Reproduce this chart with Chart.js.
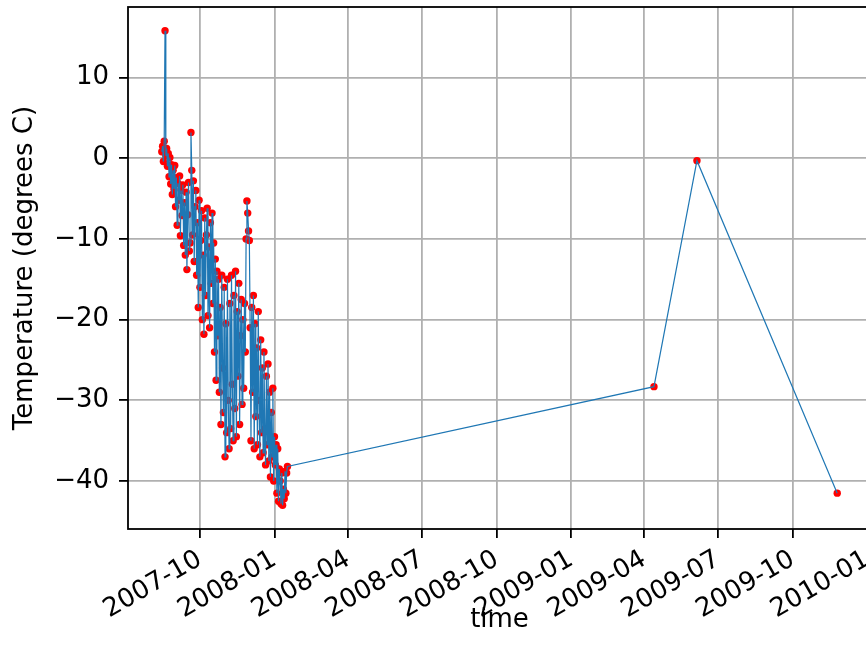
<!DOCTYPE html>
<html>
<head>
<meta charset="utf-8">
<script src="https://cdn.jsdelivr.net/npm/chart.js@4/dist/chart.umd.min.js"></script>
<style>
  html, body { margin: 0; padding: 0; background: #fff; overflow: hidden; }
  #wrap { width: 875px; height: 664px; }
</style>
</head>
<body>
<div id="wrap"><canvas id="myChart" width="875" height="664"></canvas></div>
<script>
// daily readings, Aug 2007 - Jan 2008, then three late readings
const dates = [
  '2007-08-15','2007-08-16','2007-08-17','2007-08-18','2007-08-19','2007-08-20','2007-08-21',
  '2007-08-22','2007-08-23','2007-08-24','2007-08-25','2007-08-26','2007-08-27','2007-08-28',
  '2007-08-29','2007-08-30','2007-08-31','2007-09-01','2007-09-02','2007-09-03','2007-09-04',
  '2007-09-05','2007-09-06','2007-09-07','2007-09-08','2007-09-09','2007-09-10','2007-09-11',
  '2007-09-12','2007-09-13','2007-09-14','2007-09-15','2007-09-16','2007-09-17','2007-09-18',
  '2007-09-19','2007-09-20','2007-09-21','2007-09-22','2007-09-23','2007-09-24','2007-09-25',
  '2007-09-26','2007-09-27','2007-09-28','2007-09-29','2007-09-30','2007-10-01','2007-10-02',
  '2007-10-03','2007-10-04','2007-10-05','2007-10-06','2007-10-07','2007-10-08','2007-10-09',
  '2007-10-10','2007-10-11','2007-10-12','2007-10-13','2007-10-14','2007-10-15','2007-10-16',
  '2007-10-17','2007-10-18','2007-10-19','2007-10-20','2007-10-21','2007-10-22','2007-10-23',
  '2007-10-24','2007-10-25','2007-10-26','2007-10-27','2007-10-28','2007-10-29','2007-10-30',
  '2007-10-31','2007-11-01','2007-11-02','2007-11-03','2007-11-04','2007-11-05','2007-11-06',
  '2007-11-07','2007-11-08','2007-11-09','2007-11-10','2007-11-11','2007-11-12','2007-11-13',
  '2007-11-14','2007-11-15','2007-11-16','2007-11-17','2007-11-18','2007-11-19','2007-11-20',
  '2007-11-21','2007-11-22','2007-11-23','2007-11-24','2007-11-25','2007-11-26','2007-11-27',
  '2007-11-28','2007-11-29','2007-11-30','2007-12-01','2007-12-02','2007-12-03','2007-12-04',
  '2007-12-05','2007-12-06','2007-12-07','2007-12-08','2007-12-09','2007-12-10','2007-12-11',
  '2007-12-12','2007-12-13','2007-12-14','2007-12-15','2007-12-16','2007-12-17','2007-12-18',
  '2007-12-19','2007-12-20','2007-12-21','2007-12-22','2007-12-23','2007-12-24','2007-12-25',
  '2007-12-26','2007-12-27','2007-12-28','2007-12-29','2007-12-30','2007-12-31','2008-01-01',
  '2008-01-02','2008-01-03','2008-01-04','2008-01-05','2008-01-06','2008-01-07','2008-01-08',
  '2008-01-09','2008-01-10','2008-01-11','2008-01-12','2008-01-13','2008-01-14','2008-01-15',
  '2008-01-16','2008-01-17',
  '2009-04-13','2009-06-05','2009-11-25'
];

const temps = [
  0.8, 1.5, -0.4, 2.1, 15.8, 0.3, 1.2,
  -1.0, 0.6, -2.3, 0.1, -3.2, -0.8, -4.5,
  -1.5, -3.8, -0.9, -6.0, -2.4, -8.3, -3.1,
  -5.2, -2.2, -9.6, -4.0, -7.1, -3.3, -10.8,
  -5.5, -12.0, -4.2, -13.8, -7.0, -3.0, -11.5,
  -10.5, 3.2, -1.5, -9.5, -2.8, -12.8, -6.0,
  -4.0, -14.5, -8.0, -18.5, -5.2, -16.0, -10.2,
  -6.5, -20.0, -12.0, -21.8, -7.4, -17.0, -9.5,
  -6.2, -19.5, -11.0, -21.0, -8.0, -15.5, -6.8,
  -18.0, -10.5, -24.0, -12.5, -27.5, -14.0, -22.0,
  -15.0, -29.0, -18.5, -33.0, -14.5, -26.0, -31.5,
  -16.0, -37.0, -20.5, -34.0, -15.0, -30.0, -36.0,
  -18.0, -33.5, -14.5, -28.0, -35.0, -17.0, -31.0,
  -14.0, -34.5, -19.0, -27.0, -15.5, -33.0, -22.0,
  -17.5, -30.5, -20.0, -28.5, -18.0, -24.0, -10.0,
  -5.3, -6.8, -9.0, -10.2, -21.0, -35.0, -18.5,
  -29.0, -17.0, -36.0, -20.5, -32.0, -23.5, -35.5,
  -19.0, -30.0, -37.0, -22.5, -34.0, -26.0, -36.5,
  -24.0, -33.5, -38.0, -27.0, -35.5, -25.5, -37.5,
  -29.0, -39.5, -31.5, -37.0, -28.5, -40.0, -34.5,
  -38.0, -35.5, -41.5, -36.0, -42.5, -38.5, -40.0,
  -42.8, -39.0, -43.0, -41.0, -42.2, -38.8, -41.5,
  -39.0, -38.2,
  -28.3, -0.3, -41.5
];

const xTickLabels = ['2007-10', '2008-01', '2008-04', '2008-07', '2008-10',
                     '2009-01', '2009-04', '2009-07', '2009-10', '2010-01'];
const yTicks = [-40, -30, -20, -10, 0, 10];

function toMs(s) {
  const p = s.split('-').map(Number);
  return Date.UTC(p[0], p[1] - 1, p[2] || 1);
}

const points = dates.map((d, i) => ({x: toMs(d), y: temps[i]}));
const xTickValues = xTickLabels.map(toMs);

// matplotlib-like 5% margins
const xs = points.map(p => p.x);
const xLo = Math.min(...xs), xHi = Math.max(...xs);
const yLo = Math.min(...temps), yHi = Math.max(...temps);
const xPad = (xHi - xLo) * 0.05, yPad = (yHi - yLo) * 0.05;

const font = {family: 'DejaVu Sans', size: 26};

const frame = {
  id: 'frame',
  afterDraw(chart) {
    const {ctx, chartArea: a} = chart;
    ctx.save();
    ctx.strokeStyle = '#000';
    ctx.lineWidth = 1.8;
    ctx.strokeRect(a.left, a.top, a.right - a.left, a.bottom - a.top);
    ctx.restore();
  }
};

new Chart(document.getElementById('myChart'), {
  type: 'scatter',
  data: {
    datasets: [
      {
        type: 'line',
        data: points,
        borderColor: '#1f77b4',
        borderWidth: 1.2,
        pointRadius: 0,
        fill: false,
        tension: 0,
        order: 1
      },
      {
        data: points,
        backgroundColor: '#ff0000',
        borderWidth: 0,
        pointRadius: 3.7,
        order: 2
      }
    ]
  },
  options: {
    responsive: false,
    animation: false,
    layout: {padding: {top: 7, right: 0, left: 0, bottom: 0}},
    plugins: {legend: {display: false}, tooltip: {enabled: false}},
    scales: {
      x: {
        type: 'linear',
        min: xLo - xPad,
        max: xHi + xPad,
        afterBuildTicks: s => { s.ticks = xTickValues.map(v => ({value: v})); },
        afterFit: s => { s.height = 135; s.paddingLeft = 0; s.paddingRight = 0; },
        ticks: {
          autoSkip: false,
          minRotation: 30,
          maxRotation: 30,
          padding: 6,
          color: '#000',
          font: font,
          callback: v => xTickLabels[xTickValues.indexOf(v)]
        },
        grid: {color: '#b0b0b0', lineWidth: 1.8, tickColor: '#000', tickLength: 9},
        border: {display: false},
        title: {display: true, text: 'time', color: '#000', font: font, padding: {top: 0, bottom: 28}}
      },
      y: {
        min: yLo - yPad,
        max: yHi + yPad,
        afterBuildTicks: s => { s.ticks = yTicks.map(v => ({value: v})); },
        afterFit: s => { s.width = 128; s.paddingTop = 0; s.paddingBottom = 0; },
        ticks: {
          padding: 10,
          color: '#000',
          font: font,
          callback: v => (v < 0 ? '\u2212' + Math.abs(v) : String(v))
        },
        grid: {color: '#b0b0b0', lineWidth: 1.8, tickColor: '#000', tickLength: 9},
        border: {display: false},
        title: {display: true, text: 'Temperature (degrees C)', color: '#000', font: font, padding: {top: 10, bottom: 0}}
      }
    }
  },
  plugins: [frame]
});
</script>
</body>
</html>
